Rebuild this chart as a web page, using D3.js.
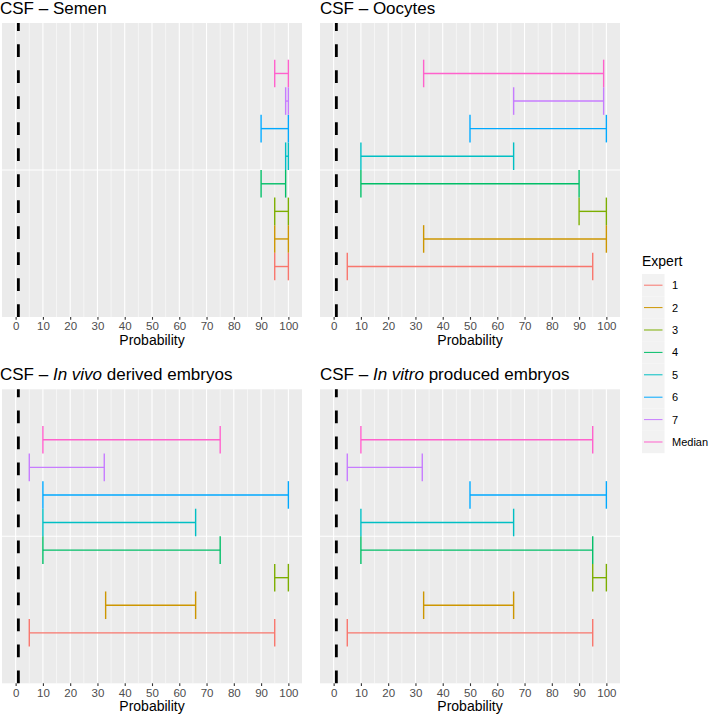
<!DOCTYPE html>
<html>
<head>
<meta charset="utf-8">
<script src="https://cdn.jsdelivr.net/npm/d3@7"></script>
<style>
  body { margin: 0; background: #fff; }
  text { font-family: Arial, "Liberation Sans", sans-serif; }
</style>
</head>
<body>
<svg></svg>
<script>
var experts = ["1", "2", "3", "4", "5", "6", "7", "Median"];
var colours = ["#F8766D", "#CD9600", "#7CAE00", "#00BE67", "#00BFC4", "#00A9FF", "#C77CFF", "#FF61CC"];

var semenLow    = [95, 95, 95, 90, 99, 90, 99, 95];
var semenHigh   = [100, 100, 100, 99, 100, 100, 100, 100];
var oocytesLow  = [5, 33, 90, 10, 10, 50, 66, 33];
var oocytesHigh = [95, 100, 100, 90, 66, 100, 99, 99];
var inVivoLow   = [5, 33, 95, 10, 10, 10, 5, 10];
var inVivoHigh  = [95, 66, 100, 75, 66, 100, 32.5, 75];
var inVitroLow  = [5, 33, 95, 10, 10, 50, 5, 10];
var inVitroHigh = [95, 66, 100, 95, 66, 100, 32.5, 95];

var xTicks = [0, 10, 20, 30, 40, 50, 60, 70, 80, 90, 100];
var cutoff = 1;

var panels = [
  {title: [["CSF \u2013 Semen", false]], low: semenLow, high: semenHigh, x: 2, y: 23},
  {title: [["CSF \u2013 Oocytes", false]], low: oocytesLow, high: oocytesHigh, x: 320, y: 23},
  {title: [["CSF \u2013 ", false], ["In vivo", true], [" derived embryos", false]], low: inVivoLow, high: inVivoHigh, x: 2, y: 389.3},
  {title: [["CSF \u2013 ", false], ["In vitro", true], [" produced embryos", false]], low: inVitroLow, high: inVitroHigh, x: 320, y: 389.3}
];

var panelW = 300, panelH = 294;

var svg = d3.select("svg").attr("width", 709).attr("height", 720);

panels.forEach(function(p) {
  var g = svg.append("g").attr("transform", "translate(" + p.x + "," + p.y + ")");
  var x = d3.scaleLinear().domain([-5, 105]).range([0, panelW]);
  var y = d3.scaleLinear().domain([-0.83, 9.83]).range([panelH, 0]);

  g.append("rect").attr("width", panelW).attr("height", panelH).attr("fill", "#EBEBEB");

  // minor grid
  g.selectAll(".minor").data(d3.range(5, 100, 10)).enter().append("line")
    .attr("x1", function(d) { return x(d); }).attr("x2", function(d) { return x(d); })
    .attr("y1", 0).attr("y2", panelH)
    .attr("stroke", "#fff").attr("stroke-width", 0.55);
  // major grid
  g.selectAll(".major").data(xTicks).enter().append("line")
    .attr("x1", function(d) { return x(d); }).attr("x2", function(d) { return x(d); })
    .attr("y1", 0).attr("y2", panelH)
    .attr("stroke", "#fff").attr("stroke-width", 1.1);
  g.append("line")
    .attr("x1", 0).attr("x2", panelW)
    .attr("y1", y(4.5)).attr("y2", y(4.5))
    .attr("stroke", "#fff").attr("stroke-width", 1.1);

  // dashed reference line
  g.append("line")
    .attr("x1", x(cutoff)).attr("x2", x(cutoff))
    .attr("y1", panelH).attr("y2", 0)
    .attr("stroke", "#000").attr("stroke-width", 2.8)
    .attr("stroke-dasharray", "12.7,13.3");

  // error bars
  var bars = g.selectAll(".bar").data(experts).enter().append("g")
    .attr("stroke", function(d, i) { return colours[i]; })
    .attr("stroke-width", 1.4).attr("fill", "none");
  bars.append("line")
    .attr("x1", function(d, i) { return x(p.low[i]); })
    .attr("x2", function(d, i) { return x(p.high[i]); })
    .attr("y1", function(d, i) { return y(i + 1); })
    .attr("y2", function(d, i) { return y(i + 1); });
  bars.append("line")
    .attr("x1", function(d, i) { return x(p.low[i]); })
    .attr("x2", function(d, i) { return x(p.low[i]); })
    .attr("y1", function(d, i) { return y(i + 0.5); })
    .attr("y2", function(d, i) { return y(i + 1.5); });
  bars.append("line")
    .attr("x1", function(d, i) { return x(p.high[i]); })
    .attr("x2", function(d, i) { return x(p.high[i]); })
    .attr("y1", function(d, i) { return y(i + 0.5); })
    .attr("y2", function(d, i) { return y(i + 1.5); });

  // x axis
  var axis = g.append("g").attr("transform", "translate(0," + panelH + ")")
    .call(d3.axisBottom(x).tickValues(xTicks).tickSize(2.75).tickPadding(2.5));
  axis.select(".domain").remove();
  axis.selectAll(".tick line").attr("stroke", "#333").attr("stroke-width", 1.1);
  axis.selectAll(".tick text").attr("fill", "#4D4D4D").attr("font-size", "11.5px")
    .style("font-family", "Arial, 'Liberation Sans', sans-serif");

  g.append("text")
    .attr("x", panelW / 2).attr("y", panelH + 28)
    .attr("text-anchor", "middle").attr("font-size", "14px").attr("fill", "#000")
    .text("Probability");

  var t = g.append("text").attr("x", -p.x + (p.x > 100 ? p.x : 0)).attr("y", -9)
    .attr("font-size", "17px").attr("fill", "#000");
  p.title.forEach(function(part) {
    t.append("tspan").attr("font-style", part[1] ? "italic" : "normal").text(part[0]);
  });
});

// legend
var legend = svg.append("g").attr("transform", "translate(642,0)");
legend.append("text").attr("x", 0).attr("y", 266)
  .attr("font-size", "14px").attr("fill", "#000").text("Expert");
var keyH = 22.4;
var items = legend.selectAll(".key").data(experts).enter().append("g")
  .attr("transform", function(d, i) { return "translate(0," + (274 + i * keyH) + ")"; });
items.append("rect").attr("width", 22.5).attr("height", keyH).attr("fill", "#F2F2F2");
items.append("line")
  .attr("x1", 2).attr("x2", 20.5).attr("y1", keyH / 2).attr("y2", keyH / 2)
  .attr("stroke", function(d, i) { return colours[i]; }).attr("stroke-width", 1);
items.append("text").attr("x", 30).attr("y", keyH / 2 + 4)
  .attr("font-size", "11px").attr("fill", "#000").text(function(d) { return d; });
</script>
</body>
</html>
